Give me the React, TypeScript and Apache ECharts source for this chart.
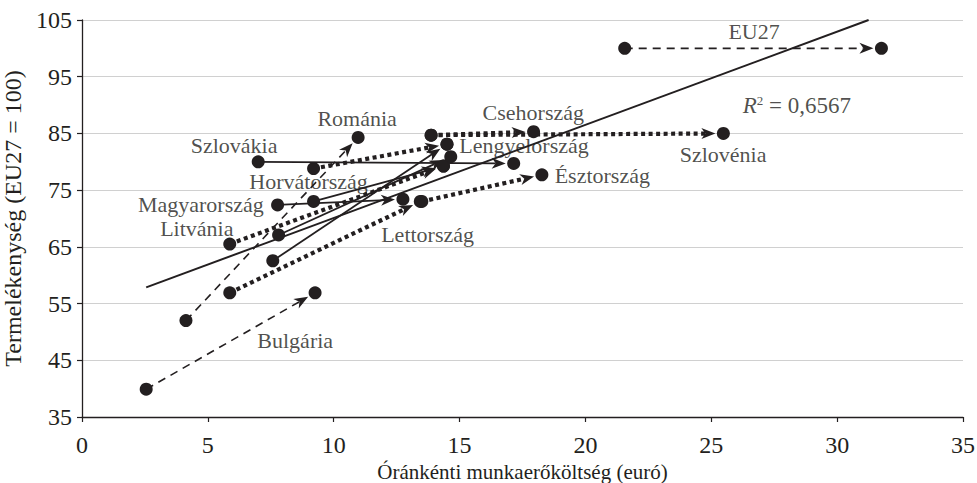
import React, { useEffect, useRef } from 'react';
import * as echarts from 'echarts';

const FONT = '"Liberation Serif", "DejaVu Serif", serif';
const INK = '#231f20';

// axis ticks
const xTicks = [0, 5, 10, 15, 20, 25, 30, 35];
const yTicks = [35, 45, 55, 65, 75, 85, 95, 105];

// arrows: start (x1,y1) -> end (x2,y2); kind 0 = dashed, 1 = solid, 2 = dotted
const segNames = [
  'EU27', 'Bulgária', 'Románia', 'Szlovákia', 'Magyarország', 'Horvátország',
  'Lengyelország', 'Litvánia', 'Lettország', 'Észtország', 'Csehország', 'Szlovénia',
  'a', 'b',
];
const segX1 = [21.56, 2.55, 4.13, 7.0, 7.77, 9.2, 7.58, 5.87, 5.87, 13.5, 13.87, 13.87, 9.2, 7.81];
const segY1 = [100.0, 39.9, 52.0, 80.0, 72.4, 73.0, 62.55, 65.5, 56.9, 73.0, 84.7, 84.7, 78.8, 67.1];
const segX2 = [31.76, 9.26, 10.97, 17.15, 12.75, 14.36, 14.5, 14.36, 13.44, 18.27, 17.94, 25.48, 14.5, 14.65];
const segY2 = [100.0, 56.9, 84.3, 79.7, 73.4, 79.25, 83.1, 79.25, 73.0, 77.7, 85.3, 85.0, 83.1, 80.9];
const segKind = [0, 0, 0, 1, 1, 1, 1, 2, 2, 2, 2, 2, 2, 1];

// regression line
const trendX = [2.55, 31.25];
const trendY = [57.86, 105];

// country labels
const labelNames = [
  'EU27', 'Csehország', 'Lengyelország', 'Szlovénia', 'Észtország', 'Szlovákia',
  'Románia', 'Horvátország', 'Magyarország', 'Litvánia', 'Lettország', 'Bulgária',
];
const labelX = [26.7, 17.93, 17.56, 25.47, 20.67, 6.04, 10.93, 9.0, 4.72, 4.56, 13.73, 8.47];
const labelY = [102.9, 88.65, 82.95, 81.37, 77.5, 82.95, 87.7, 76.5, 72.4, 68.3, 67.1, 48.56];

const r2Pos = [28.4, 90.0];

export default function App() {
  const ref = useRef<HTMLDivElement>(null);
  useEffect(() => {
    document.body.style.margin = '0';
    const chart = echarts.init(ref.current!, null, { renderer: 'svg' });

    const segData = segNames.map((n, i) => ({
      name: n,
      value: [segX1[i], segY1[i], segX2[i], segY2[i], segKind[i]],
    }));
    const dotSet: number[][] = [];
    segNames.forEach((_, i) => {
      dotSet.push([segX1[i], segY1[i]]);
      dotSet.push([segX2[i], segY2[i]]);
    });

    const option: any = {
      animation: false,
      grid: { left: 82, right: 14, top: 20, bottom: 66, containLabel: false, outerBoundsMode: 'none' },
      xAxis: {
        type: 'value',
        min: xTicks[0],
        max: xTicks[xTicks.length - 1],
        interval: 5,
        name: 'Óránkénti munkaerőköltség (euró)',
        nameLocation: 'middle',
        nameGap: 44,
        nameTextStyle: { fontFamily: FONT, fontSize: 21, color: INK },
        axisLine: { lineStyle: { color: INK, width: 1.3 } },
        axisTick: { show: true, length: 5, lineStyle: { color: INK, width: 1.2 } },
        axisLabel: { fontFamily: FONT, fontSize: 24, color: INK, margin: 16 },
        splitLine: { show: false },
      },
      yAxis: {
        type: 'value',
        min: yTicks[0],
        max: yTicks[yTicks.length - 1],
        interval: 10,
        name: 'Termelékenység (EU27 = 100)',
        nameLocation: 'middle',
        nameGap: 48,
        nameTextStyle: { fontFamily: FONT, fontSize: 24, color: INK },
        axisLine: { show: true, lineStyle: { color: INK, width: 1.3 } },
        axisTick: { show: true, length: 5, lineStyle: { color: INK, width: 1.2 } },
        axisLabel: { fontFamily: FONT, fontSize: 24, color: INK, margin: 10 },
        splitLine: { show: true, lineStyle: { color: '#d0d0d0', width: 1.2 } },
      },
      series: [
        {
          type: 'line',
          data: trendX.map((x, i) => [x, trendY[i]]),
          symbol: 'none',
          lineStyle: { color: INK, width: 2 },
          z: 2,
        },
        {
          type: 'custom',
          data: segData,
          encode: { x: [0, 2], y: [1, 3] },
          z: 3,
          renderItem: (params: any, api: any) => {
            const a = api.coord([api.value(0), api.value(1)]);
            const b = api.coord([api.value(2), api.value(3)]);
            const kind = api.value(4);
            const dx = b[0] - a[0];
            const dy = b[1] - a[1];
            const L = Math.hypot(dx, dy) || 1;
            const ux = dx / L, uy = dy / L;
            const nx = -uy, ny = ux;
            const tip = [b[0] - ux * 8, b[1] - uy * 8];
            const al = 14, hw = 5.5;
            const base = [tip[0] - ux * al, tip[1] - uy * al];
            const notch = [tip[0] - ux * (al - 4), tip[1] - uy * (al - 4)];
            const st =
              kind === 0
                ? { lineWidth: 1.6, lineDash: [8, 6] }
                : kind === 1
                ? { lineWidth: 1.8 }
                : { lineWidth: 4.2, lineDash: [4, 3.5] };
            return {
              type: 'group',
              children: [
                {
                  type: 'line',
                  shape: { x1: a[0], y1: a[1], x2: notch[0], y2: notch[1] },
                  style: { stroke: INK, fill: null, ...st },
                },
                {
                  type: 'polygon',
                  shape: {
                    points: [
                      tip,
                      [base[0] + nx * hw, base[1] + ny * hw],
                      notch,
                      [base[0] - nx * hw, base[1] - ny * hw],
                    ],
                  },
                  style: { fill: INK, stroke: null },
                },
              ],
            };
          },
        },
        {
          type: 'scatter',
          data: dotSet,
          symbol: 'circle',
          symbolSize: 13,
          itemStyle: { color: INK, opacity: 1 },
          z: 4,
        },
        {
          type: 'scatter',
          data: labelNames.map((n, i) => ({ name: n, value: [labelX[i], labelY[i]] })),
          symbolSize: 0,
          silent: true,
          z: 5,
          label: {
            show: true,
            position: 'inside',
            formatter: (p: any) => p.name,
            fontFamily: FONT,
            fontSize: 22,
            color: INK,
            align: 'center',
            verticalAlign: 'middle',
          },
        },
        {
          type: 'scatter',
          data: [{ name: 'R2', value: r2Pos }],
          symbolSize: 0,
          silent: true,
          z: 5,
          label: {
            show: true,
            position: 'inside',
            formatter: '{it|R}{sup|2}{n| = 0,6567}',
            fontFamily: FONT,
            color: INK,
            align: 'center',
            verticalAlign: 'middle',
            rich: {
              it: { fontFamily: FONT, fontSize: 23, fontStyle: 'italic', color: INK },
              sup: { fontFamily: FONT, fontSize: 13, color: INK, verticalAlign: 'top', padding: [0, 0, 10, 0] },
              n: { fontFamily: FONT, fontSize: 23, color: INK },
            },
          },
        },
      ],
    };
    chart.setOption(option);
    return () => chart.dispose();
  }, []);
  return <div ref={ref} style={{ width: 977, height: 483 }} />;
}
